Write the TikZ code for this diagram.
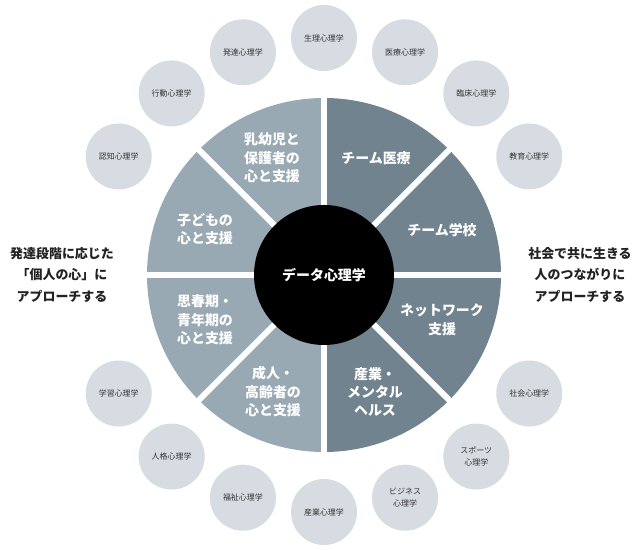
\documentclass[tikz,border=0pt]{standalone}
\usepackage{fontspec}
\setmainfont{Noto Sans CJK JP}
\usetikzlibrary{calc}
\definecolor{lightseg}{HTML}{98A9B3}
\definecolor{darkseg}{HTML}{70838E}
\definecolor{satfill}{HTML}{D6DCE1}
\definecolor{sattext}{HTML}{333333}
\definecolor{sidecol}{HTML}{222222}
\begin{document}
\begin{tikzpicture}[x=1bp,y=1bp,
  wheeltext/.style={text=white, font=\bfseries\fontsize{14}{18.5}\selectfont, align=center, inner sep=0pt},
  satellite/.style={circle, fill=satfill, minimum size=66bp, inner sep=0pt, text=sattext, font=\fontsize{8}{12}\selectfont, align=center},
  sidetext/.style={text=sidecol, font=\bfseries\fontsize{13}{22}\selectfont, align=center, inner sep=0pt},
  gap/.style={white, line width=6bp}]
\useasboundingbox (0,0) rectangle (640,550);
\coordinate (c) at (324,275);
% wheel
\fill[lightseg] (c) -- ++(90:177) arc[start angle=90,end angle=270,radius=177bp] -- cycle;
\fill[darkseg] (c) -- ++(-90:177) arc[start angle=-90,end angle=90,radius=177bp] -- cycle;
\foreach \a in {0,45,...,315} \draw[gap] (c) -- ++(\a:185);
\node[circle, fill=black, minimum size=140bp, inner sep=0pt, text=white, font=\bfseries\fontsize{14}{18}\selectfont] (core) at (c) {データ心理学};
% wheel labels
\node[wheeltext] (iryo) at ($(c)+(52,117)$) {チーム医療};
\node[wheeltext] (gakko) at ($(c)+(118,45)$) {チーム学校};
\node[wheeltext] (network) at ($(c)+(118,-45)$) {ネットワーク\\支援};
\node[wheeltext] (sangyo) at ($(c)+(51,-117)$) {産業・\\メンタル\\ヘルス};
\node[wheeltext] (seijin) at ($(c)+(-51,-117)$) {成人・\\高齢者の\\心と支援};
\node[wheeltext] (shishunki) at ($(c)+(-119,-45)$) {思春期・\\青年期の\\心と支援};
\node[wheeltext] (kodomo) at ($(c)+(-119,46)$) {子どもの\\心と支援};
\node[wheeltext] (nyuyoji) at ($(c)+(-52,117)$) {乳幼児と\\保護者の\\心と支援};
% satellites
\foreach \a/\n/\t in {30/kyoiku/教育心理学, 50/rinsho/臨床心理学, 70/iryopsy/医療心理学,
  90/seiri/生理心理学, 110/hattatsu/発達心理学, 130/kodo/行動心理学, 150/ninchi/認知心理学,
  210/gakushu/学習心理学, 230/jinkaku/人格心理学, 250/fukushi/福祉心理学, 270/sangyopsy/産業心理学,
  290/business/{ビジネス\\心理学}, 310/sports/{スポーツ\\心理学}, 330/shakai/社会心理学}
  \node[satellite] (\n) at ($(c)+(\a:237)$) {\t};
% side texts
\node[sidetext] (left) at (62,275) {発達段階に応じた\\「個人の心」に\\アプローチする};
\node[sidetext] (right) at (580,275) {社会で共に生きる\\人のつながりに\\アプローチする};
\end{tikzpicture}
\end{document}
